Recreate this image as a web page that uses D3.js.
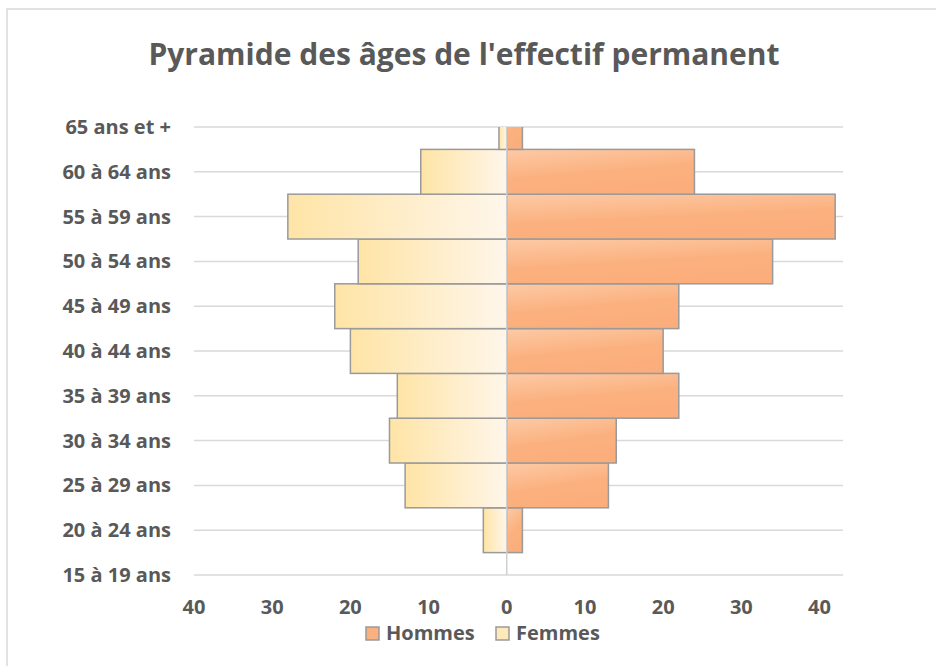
<!DOCTYPE html>
<html>
<head>
<meta charset="utf-8">
<script src="https://cdn.jsdelivr.net/npm/d3@7"></script>
<style>
  body { margin: 0; background: #fff; }
  text { font-family: "Open Sans", sans-serif; font-weight: 700; fill: #595959; }
</style>
</head>
<body>
<svg width="936" height="666"></svg>
<script>
// age classes, bottom to top
var ages = ["15 à 19 ans", "20 à 24 ans", "25 à 29 ans", "30 à 34 ans", "35 à 39 ans",
            "40 à 44 ans", "45 à 49 ans", "50 à 54 ans", "55 à 59 ans", "60 à 64 ans", "65 ans et +"];
var hommes = [0, 2, 13, 14, 22, 20, 22, 34, 42, 24, 2];
var femmes = [0, 3, 13, 15, 14, 20, 22, 19, 28, 11, 1];
var xTicks = [-40, -30, -20, -10, 0, 10, 20, 30, 40];
var seriesNames = ["Hommes", "Femmes"];

var svg = d3.select("svg"),
    width = +svg.attr("width"),
    height = +svg.attr("height");

var plotLeft = 194, plotRight = 843, plotTop = 127, plotBottom = 575;

// rows for binding, empty bars dropped
var rows = ages.map(function(a, i) { return { age: a, h: hommes[i], f: femmes[i] }; });

// chart frame
svg.append("rect")
    .attr("x", 7).attr("y", 9)
    .attr("width", 960).attr("height", 700)
    .attr("fill", "#fff")
    .attr("stroke", "#d9d9d9")
    .attr("stroke-width", 1.5);

var defs = svg.append("defs");

var gF = defs.append("linearGradient").attr("id", "gradF")
    .attr("x1", 0).attr("y1", 0).attr("x2", 1).attr("y2", 0);
gF.append("stop").attr("offset", "0%").attr("stop-color", "#fee4a6");
gF.append("stop").attr("offset", "100%").attr("stop-color", "#fef6ea");

var gH = defs.append("linearGradient").attr("id", "gradH")
    .attr("x1", 0).attr("y1", 0).attr("x2", 0.35).attr("y2", 1);
gH.append("stop").attr("offset", "0%").attr("stop-color", "#fdcaa6");
gH.append("stop").attr("offset", "60%").attr("stop-color", "#fbb17f");
gH.append("stop").attr("offset", "100%").attr("stop-color", "#fbae7b");

defs.append("clipPath").attr("id", "plotClip")
  .append("rect")
    .attr("x", plotLeft).attr("y", plotTop)
    .attr("width", plotRight - plotLeft).attr("height", plotBottom - plotTop);

var x = d3.scaleLinear().domain([-40, 43]).range([plotLeft, plotRight]);
var y = d3.scalePoint().domain(ages).range([plotBottom, plotTop]);
var band = y.step();

// title
svg.append("text")
    .attr("x", 464).attr("y", 65)
    .attr("text-anchor", "middle")
    .style("font-size", "30px")
    .text("Pyramide des âges de l'effectif permanent");

// horizontal grid lines at each category
svg.append("g")
    .selectAll("line")
    .data(ages)
    .enter().append("line")
      .attr("x1", plotLeft).attr("x2", plotRight)
      .attr("y1", function(d) { return y(d); })
      .attr("y2", function(d) { return y(d); })
      .attr("stroke", "#d9d9d9")
      .attr("stroke-width", 1.5);

var bars = svg.append("g").attr("clip-path", "url(#plotClip)");

bars.selectAll("rect.f")
    .data(rows.filter(function(d) { return d.f > 0; }))
    .enter().append("rect")
      .attr("class", "f")
      .attr("x", function(d) { return x(-d.f); })
      .attr("y", function(d) { return y(d.age) - band / 2; })
      .attr("width", function(d) { return x(0) - x(-d.f); })
      .attr("height", band)
      .attr("fill", "url(#gradF)")
      .attr("stroke", "#9a9a9a")
      .attr("stroke-width", 1.5);

bars.selectAll("rect.h")
    .data(rows.filter(function(d) { return d.h > 0; }))
    .enter().append("rect")
      .attr("class", "h")
      .attr("x", x(0))
      .attr("y", function(d) { return y(d.age) - band / 2; })
      .attr("width", function(d) { return x(d.h) - x(0); })
      .attr("height", band)
      .attr("fill", "url(#gradH)")
      .attr("stroke", "#9a9a9a")
      .attr("stroke-width", 1.5);

// central vertical axis
svg.append("line")
    .attr("x1", x(0)).attr("x2", x(0))
    .attr("y1", plotTop).attr("y2", plotBottom)
    .attr("stroke", "#d0d0d0")
    .attr("stroke-width", 1.5);

// category labels
svg.append("g")
    .selectAll("text")
    .data(ages)
    .enter().append("text")
      .attr("x", 171)
      .attr("y", function(d) { return y(d); })
      .attr("dy", "0.35em")
      .attr("text-anchor", "end")
      .style("font-size", "20px")
      .text(function(d) { return d; });

// x tick labels (absolute values)
svg.append("g")
    .selectAll("text")
    .data(xTicks)
    .enter().append("text")
      .attr("x", function(d) { return x(d); })
      .attr("y", 614)
      .attr("text-anchor", "middle")
      .style("font-size", "20px")
      .text(function(d) { return Math.abs(d); });

// legend
var legend = svg.append("g");
var legendX = [366, 496];
var legendFill = ["#fbb17f", "#fee9b8"];
seriesNames.forEach(function(name, i) {
  legend.append("rect")
      .attr("x", legendX[i]).attr("y", 627)
      .attr("width", 13).attr("height", 13)
      .attr("fill", legendFill[i])
      .attr("stroke", "#9a9a9a")
      .attr("stroke-width", 1.5);
  legend.append("text")
      .attr("x", legendX[i] + 20).attr("y", 640)
      .style("font-size", "20px")
      .text(name);
});
</script>
</body>
</html>
